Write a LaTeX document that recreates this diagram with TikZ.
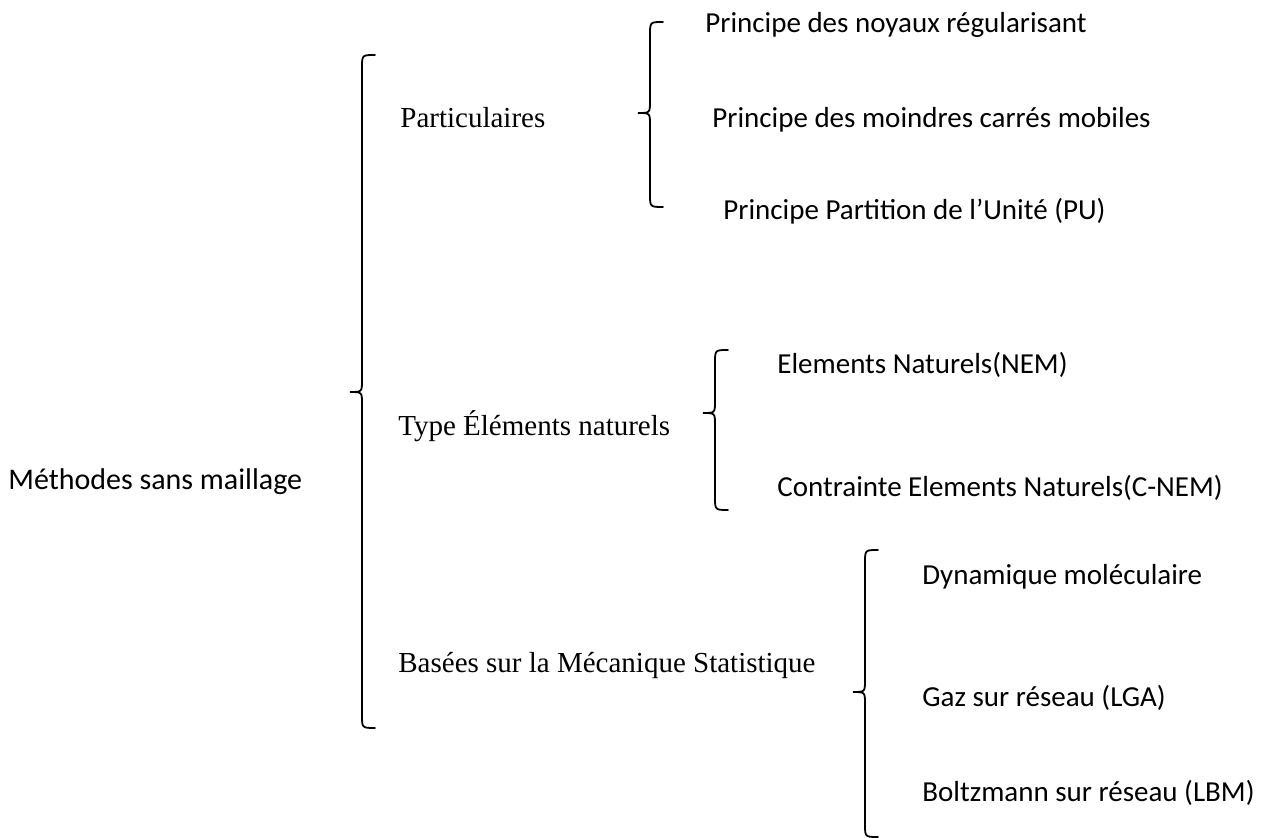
\documentclass[tikz,border=0pt]{standalone}
\usepackage{fontspec}
\setmainfont{Liberation Serif}
\newfontfamily\carlito{Carlito}
\usetikzlibrary{positioning}
% one brace: line x, top y, tip y, bottom y
\newcommand{\curlybrace}[4]{%
  \draw[brace] (#1+13,#2) .. controls (#1,#2) .. (#1,#2+13)
    -- (#1,#3-12) .. controls (#1,#3) .. (#1-12,#3)
    .. controls (#1,#3) .. (#1,#3+12)
    -- (#1,#4-13) .. controls (#1,#4) .. (#1+13,#4);}

\begin{document}
\begin{tikzpicture}[
  x=0.5pt, y=-0.5pt,
  brace/.style={line width=0.9pt, line cap=round},
  grp/.style={anchor=base west, inner sep=0pt, font=\fontsize{14.5pt}{17pt}\selectfont},
  leaf/.style={anchor=base west, inner sep=0pt, font=\carlito\fontsize{14.5pt}{17pt}\selectfont},
  ]
  \useasboundingbox (0,0) rectangle (1266,838);
  % root
  \node[leaf, font=\carlito\fontsize{15pt}{18pt}\selectfont] (root) at (8,490) {Méthodes sans maillage};
  \curlybrace{362}{55}{392}{728}
  % groups
  \node[grp] (part) at (400,128) {Particulaires};
  \node[grp] (type) at (398,436) {Type Éléments naturels};
  \node[grp] (stat) at (398,673) {Basées sur la Mécanique Statistique};
  % particulaires
  \curlybrace{650}{22}{113}{207}
  \node[leaf] (noy)  at (705,33)  {Principe des noyaux régularisant};
  \node[leaf] (mls)  at (712,128) {Principe des moindres carrés mobiles};
  \node[leaf] (pu)   at (723,220) {Principe Partition de l’Unité (PU)};
  % elements naturels
  \curlybrace{715}{350}{413}{510}
  \node[leaf] (nem)  at (777,374) {Elements Naturels(NEM)};
  \node[leaf] (cnem) at (777,497) {Contrainte Elements Naturels(C-NEM)};
  % mecanique statistique
  \curlybrace{865}{550}{692}{837}
  \node[leaf] (dyn)  at (922,585) {Dynamique moléculaire};
  \node[leaf] (lga)  at (922,707) {Gaz sur réseau (LGA)};
  \node[leaf] (lbm)  at (922,802) {Boltzmann sur réseau (LBM)};
\end{tikzpicture}
\end{document}
